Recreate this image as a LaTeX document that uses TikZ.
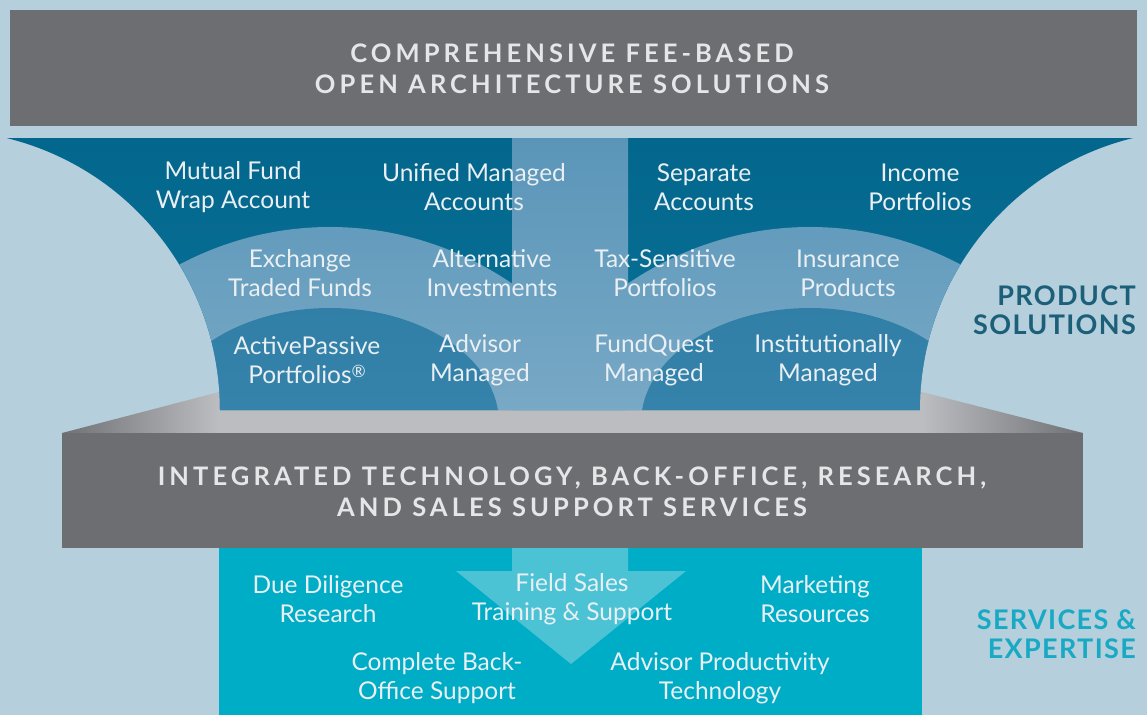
\documentclass[tikz,border=0pt]{standalone}
\usepackage{fontspec}
\setmainfont{Lato}
\definecolor{bg}{HTML}{B5CFDC}
\definecolor{bannergrey}{HTML}{6D6E72}
\definecolor{bannertxt}{HTML}{E6E6E8}
\definecolor{bandA}{HTML}{03678D}
\definecolor{bandAb}{HTML}{0B7198}
\definecolor{lightT}{HTML}{5A95B8}
\definecolor{lightB}{HTML}{78A9C6}
\definecolor{bandC}{HTML}{2A79A1}
\definecolor{bandCb}{HTML}{3583AB}
\definecolor{trayL}{HTML}{BCBDC1}
\definecolor{trayD}{HTML}{707175}
\definecolor{cyanbox}{HTML}{00ADC6}
\definecolor{cyanarrow}{HTML}{4CC3D5}
\definecolor{prodlbl}{HTML}{1C5F79}
\definecolor{servlbl}{HTML}{18A9C4}
\definecolor{itemtxt}{HTML}{E9EFF3}
\begin{document}
\begin{tikzpicture}[x=1pt,y=-1pt,
  item/.style={text=itemtxt, font=\fontsize{24.5}{29}\selectfont, align=center, inner sep=0pt},
  titletxt/.style={text=bannertxt, font=\fontsize{25.5}{31}\selectfont\bfseries\addfontfeatures{LetterSpace=16}, align=center, inner sep=0pt},
  sidelbl/.style={font=\fontsize{27}{29}\selectfont\bfseries\addfontfeatures{LetterSpace=5}, align=right, anchor=east, inner sep=0pt}]
\useasboundingbox (0,0) rectangle (1147,715);
\fill[bg] (0,0) rectangle (1147,715);
% top banner
\fill[bannergrey] (10,10) rectangle (1137,126);
% tray
\shade[left color=trayD, right color=trayL] (62,433) -- (219,392) -- (219,433) -- cycle;
\fill[trayL] (219,392) rectangle (922,433);
\shade[left color=trayL, right color=trayD] (922,392) -- (1083,433) -- (922,433) -- cycle;
% funnel
\begin{scope}
\clip (7,138) -- (1133,138) arc[start angle=-103.8,end angle=-180,radius=280] -- (920,410) -- (220,410) arc[start angle=0,end angle=-76.2,radius=280] -- cycle;
\shade[top color=bandA, bottom color=bandAb] (0,138) rectangle (1147,411);
\begin{scope}
\clip (330,591) ellipse[x radius=340, y radius=364];
\shade[top color=lightT, bottom color=lightB] (0,138) rectangle (1147,411);
\end{scope}
\begin{scope}
\clip (810,591) ellipse[x radius=340, y radius=364];
\shade[top color=lightT, bottom color=lightB] (0,138) rectangle (1147,411);
\end{scope}
\begin{scope}
\clip (512,138) rectangle (628,411);
\shade[top color=lightT, bottom color=lightB] (0,138) rectangle (1147,411);
\end{scope}
\begin{scope}
\clip (330,423) ellipse[x radius=169, y radius=115];
\shade[top color=bandC, bottom color=bandCb] (0,138) rectangle (1147,411);
\end{scope}
\begin{scope}
\clip (810,423) ellipse[x radius=169, y radius=115];
\shade[top color=bandC, bottom color=bandCb] (0,138) rectangle (1147,411);
\end{scope}
\end{scope}
% middle banner
\fill[bannergrey] (62,433) rectangle (1083,548);
% services box
\fill[cyanbox] (219,548) rectangle (922,715);
\fill[cyanarrow] (512,548) -- (628,548) -- (628,571) -- (686,571) -- (571,664) -- (456,571) -- (512,571) -- cycle;
% titles
\node[titletxt] (title) at (572,68.5) {COMPREHENSIVE FEE-BASED\\OPEN ARCHITECTURE SOLUTIONS};
\node[titletxt] (services) at (572,492) {INTEGRATED TECHNOLOGY, BACK-OFFICE, RESEARCH,\\AND SALES SUPPORT SERVICES};
% row 1
\node[item] (mfw) at (233,187.5) {Mutual Fund\\Wrap Account};
\node[item] (uma) at (474,187.5) {Unified Managed\\Accounts};
\node[item] (sep) at (704,187.5) {Separate\\Accounts};
\node[item] (inc) at (920,187.5) {Income\\Portfolios};
% row 2
\node[item] (etf) at (300,273.5) {Exchange\\Traded Funds};
\node[item] (alt) at (492,273.5) {Alternative\\Investments};
\node[item] (tax) at (665,273.5) {Tax-Sensitive\\Portfolios};
\node[item] (ins) at (848,273.5) {Insurance\\Products};
% row 3
\node[item] (act) at (307,360.5) {ActivePassive\\Portfolios\raisebox{0.55ex}{\fontsize{17}{17}\selectfont\textregistered}};
\node[item] (adv) at (480,360.5) {Advisor\\Managed};
\node[item] (fq) at (654,360.5) {FundQuest\\Managed};
\node[item] (inst) at (828,360.5) {Institutionally\\Managed};
% bottom
\node[item] (due) at (328,599.5) {Due Diligence\\Research};
\node[item] (field) at (572,599.5) {Field Sales\\Training \& Support};
\node[item] (mkt) at (815,599.5) {Marketing\\Resources};
\node[item] (cbo) at (437,678.5) {Complete Back-\\Office Support};
\node[item] (apt) at (720,678.5) {Advisor Productivity\\Technology};
% side labels
\node[sidelbl, text=prodlbl] (prod) at (1136,310) {PRODUCT\\SOLUTIONS};
\node[sidelbl, text=servlbl] (serv) at (1136,634) {SERVICES \&\\EXPERTISE};
\end{tikzpicture}
\end{document}
